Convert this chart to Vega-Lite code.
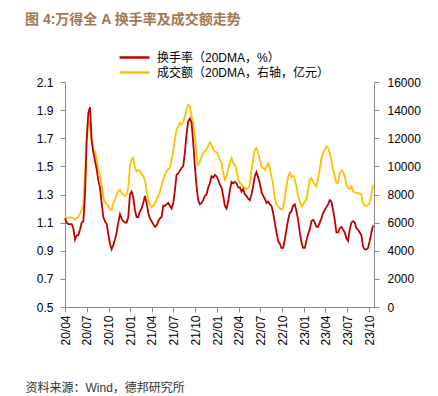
{
  "$schema": "https://vega.github.io/schema/vega-lite/v6.json",
  "autosize": {"type": "none"},
  "width": 309,
  "height": 225,
  "padding": {"left": 65, "top": 82, "right": 64, "bottom": 89},
  "background": "white",
  "config": {
    "view": {"stroke": null},
    "font": "Liberation Sans, Noto Sans CJK SC",
    "axis": {"labelFont": "Liberation Sans", "labelFontSize": 12, "labelColor": "#000", "domainColor": "#888", "tickColor": "#888", "grid": false, "tickSize": 5}
  },
  "title": {"text": "图 4:万得全 A 换手率及成交额走势", "anchor": "start", "frame": "group", "dx": -40, "offset": 24, "fontSize": 14, "fontWeight": "bold", "color": "#a07850", "font": "Liberation Sans, Noto Sans CJK SC"},
  "data": {"values": [
    {"date":"2020-04-01","t":1.13,"v":6450},{"date":"2020-04-08","t":1.10,"v":6330},{"date":"2020-04-15","t":1.09,"v":6350},{"date":"2020-04-22","t":1.09,"v":6370},{"date":"2020-04-29","t":1.09,"v":6350},{"date":"2020-05-06","t":1.06,"v":6330},{"date":"2020-05-13","t":0.98,"v":6210},{"date":"2020-05-20","t":1.01,"v":6330},{"date":"2020-05-27","t":1.01,"v":6400},{"date":"2020-06-03","t":1.05,"v":6600},{"date":"2020-06-10","t":1.10,"v":6920},{"date":"2020-06-17","t":1.11,"v":7270},{"date":"2020-06-24","t":1.29,"v":9500},{"date":"2020-07-01","t":1.68,"v":12000},{"date":"2020-07-08","t":1.88,"v":13200},{"date":"2020-07-15","t":1.92,"v":13100},{"date":"2020-07-22","t":1.69,"v":11600},{"date":"2020-07-29","t":1.60,"v":11180},{"date":"2020-08-05","t":1.54,"v":11070},{"date":"2020-08-12","t":1.48,"v":10470},{"date":"2020-08-19","t":1.40,"v":9760},{"date":"2020-08-26","t":1.35,"v":9410},{"date":"2020-09-02","t":1.24,"v":8700},{"date":"2020-09-09","t":1.14,"v":7800},{"date":"2020-09-16","t":1.11,"v":7450},{"date":"2020-09-23","t":1.09,"v":7330},{"date":"2020-09-30","t":1.02,"v":7200},{"date":"2020-10-07","t":0.95,"v":6920},{"date":"2020-10-14","t":0.91,"v":6920},{"date":"2020-10-21","t":0.94,"v":7390},{"date":"2020-10-28","t":0.98,"v":7630},{"date":"2020-11-04","t":1.03,"v":7990},{"date":"2020-11-11","t":1.10,"v":8220},{"date":"2020-11-18","t":1.16,"v":8340},{"date":"2020-11-25","t":1.13,"v":8100},{"date":"2020-12-02","t":1.11,"v":7990},{"date":"2020-12-09","t":1.10,"v":7910},{"date":"2020-12-16","t":1.10,"v":8000},{"date":"2020-12-23","t":1.14,"v":8500},{"date":"2020-12-30","t":1.30,"v":10000},
    {"date":"2021-01-06","t":1.32,"v":10500},{"date":"2021-01-13","t":1.28,"v":10600},{"date":"2021-01-20","t":1.19,"v":9900},{"date":"2021-01-27","t":1.14,"v":9650},{"date":"2021-02-03","t":1.14,"v":9750},{"date":"2021-02-10","t":1.18,"v":9700},{"date":"2021-02-17","t":1.20,"v":9450},{"date":"2021-02-24","t":1.24,"v":9350},{"date":"2021-03-03","t":1.29,"v":9000},{"date":"2021-03-10","t":1.24,"v":8300},{"date":"2021-03-17","t":1.17,"v":7600},{"date":"2021-03-24","t":1.13,"v":7270},{"date":"2021-03-31","t":1.11,"v":7110},{"date":"2021-04-07","t":1.09,"v":7160},{"date":"2021-04-14","t":1.07,"v":7390},{"date":"2021-04-21","t":1.08,"v":7630},{"date":"2021-04-28","t":1.11,"v":7900},{"date":"2021-05-05","t":1.13,"v":8150},{"date":"2021-05-12","t":1.14,"v":8700},{"date":"2021-05-19","t":1.22,"v":9050},{"date":"2021-05-26","t":1.22,"v":9400},{"date":"2021-06-02","t":1.23,"v":9650},{"date":"2021-06-09","t":1.24,"v":9800},{"date":"2021-06-16","t":1.22,"v":9880},{"date":"2021-06-23","t":1.20,"v":10470},{"date":"2021-06-30","t":1.24,"v":11070},{"date":"2021-07-07","t":1.33,"v":11900},{"date":"2021-07-14","t":1.44,"v":12610},{"date":"2021-07-21","t":1.45,"v":12840},{"date":"2021-07-28","t":1.47,"v":13080},{"date":"2021-08-04","t":1.49,"v":12960},{"date":"2021-08-11","t":1.50,"v":13200},{"date":"2021-08-18","t":1.60,"v":13550},{"date":"2021-08-25","t":1.73,"v":14080},{"date":"2021-09-01","t":1.82,"v":14380},{"date":"2021-09-08","t":1.84,"v":14260},{"date":"2021-09-15","t":1.81,"v":13550},{"date":"2021-09-22","t":1.67,"v":13080},{"date":"2021-09-29","t":1.50,"v":12130},{"date":"2021-10-06","t":1.36,"v":10710},{"date":"2021-10-13","t":1.26,"v":10120},{"date":"2021-10-20","t":1.23,"v":10360},{"date":"2021-10-27","t":1.24,"v":10710},{"date":"2021-11-03","t":1.26,"v":10950},{"date":"2021-11-10","t":1.29,"v":11070},{"date":"2021-11-17","t":1.30,"v":11180},{"date":"2021-11-24","t":1.35,"v":11470},{"date":"2021-12-01","t":1.38,"v":11710},{"date":"2021-12-08","t":1.43,"v":11540},{"date":"2021-12-15","t":1.42,"v":11180},{"date":"2021-12-22","t":1.44,"v":11070},{"date":"2021-12-29","t":1.43,"v":11000},
    {"date":"2022-01-05","t":1.405,"v":10830},{"date":"2022-01-12","t":1.37,"v":10480},{"date":"2022-01-19","t":1.35,"v":10240},{"date":"2022-01-26","t":1.29,"v":9530},{"date":"2022-02-02","t":1.22,"v":9050},{"date":"2022-02-09","t":1.20,"v":9290},{"date":"2022-02-16","t":1.25,"v":9760},{"date":"2022-02-23","t":1.33,"v":10240},{"date":"2022-03-02","t":1.39,"v":10590},{"date":"2022-03-09","t":1.38,"v":10240},{"date":"2022-03-16","t":1.39,"v":10120},{"date":"2022-03-23","t":1.38,"v":9760},{"date":"2022-03-30","t":1.35,"v":9050},{"date":"2022-04-06","t":1.35,"v":8820},{"date":"2022-04-13","t":1.32,"v":8700},{"date":"2022-04-20","t":1.34,"v":8580},{"date":"2022-04-27","t":1.30,"v":8460},{"date":"2022-05-04","t":1.29,"v":8390},{"date":"2022-05-11","t":1.27,"v":8460},{"date":"2022-05-18","t":1.26,"v":8700},{"date":"2022-05-25","t":1.30,"v":9760},{"date":"2022-06-01","t":1.36,"v":10480},{"date":"2022-06-08","t":1.43,"v":11190},{"date":"2022-06-15","t":1.46,"v":11300},{"date":"2022-06-22","t":1.42,"v":10950},{"date":"2022-06-29","t":1.38,"v":10480},{"date":"2022-07-06","t":1.32,"v":10000},{"date":"2022-07-13","t":1.29,"v":9880},{"date":"2022-07-20","t":1.27,"v":9760},{"date":"2022-07-27","t":1.24,"v":10000},{"date":"2022-08-03","t":1.25,"v":10240},{"date":"2022-08-10","t":1.23,"v":9880},{"date":"2022-08-17","t":1.22,"v":9290},{"date":"2022-08-24","t":1.17,"v":8700},{"date":"2022-08-31","t":1.10,"v":7750},{"date":"2022-09-07","t":1.03,"v":7280},{"date":"2022-09-14","t":0.97,"v":7160},{"date":"2022-09-21","t":0.95,"v":7040},{"date":"2022-09-28","t":0.92,"v":6920},{"date":"2022-10-05","t":0.92,"v":7040},{"date":"2022-10-12","t":0.98,"v":7750},{"date":"2022-10-19","t":1.05,"v":8580},{"date":"2022-10-26","t":1.12,"v":9290},{"date":"2022-11-02","t":1.17,"v":9530},{"date":"2022-11-09","t":1.18,"v":9240},{"date":"2022-11-16","t":1.22,"v":9340},{"date":"2022-11-23","t":1.23,"v":9050},{"date":"2022-11-30","t":1.18,"v":8580},{"date":"2022-12-07","t":1.12,"v":7870},{"date":"2022-12-14","t":1.03,"v":7510},{"date":"2022-12-21","t":0.96,"v":7160},{"date":"2022-12-28","t":0.92,"v":7280},
    {"date":"2023-01-04","t":0.92,"v":7510},{"date":"2023-01-11","t":0.97,"v":7630},{"date":"2023-01-18","t":1.02,"v":8340},{"date":"2023-01-25","t":1.05,"v":9050},{"date":"2023-02-01","t":1.11,"v":9170},{"date":"2023-02-08","t":1.12,"v":8860},{"date":"2023-02-15","t":1.10,"v":8700},{"date":"2023-02-22","t":1.07,"v":8580},{"date":"2023-03-01","t":1.07,"v":9170},{"date":"2023-03-08","t":1.10,"v":9760},{"date":"2023-03-15","t":1.13,"v":10590},{"date":"2023-03-22","t":1.17,"v":10950},{"date":"2023-03-29","t":1.19,"v":11190},{"date":"2023-04-05","t":1.21,"v":11420},{"date":"2023-04-12","t":1.23,"v":11300},{"date":"2023-04-19","t":1.26,"v":10950},{"date":"2023-04-26","t":1.25,"v":10480},{"date":"2023-05-03","t":1.19,"v":9760},{"date":"2023-05-10","t":1.12,"v":9290},{"date":"2023-05-17","t":1.03,"v":8820},{"date":"2023-05-24","t":1.03,"v":8820},{"date":"2023-05-31","t":1.06,"v":9530},{"date":"2023-06-07","t":1.07,"v":9720},{"date":"2023-06-14","t":1.05,"v":9650},{"date":"2023-06-21","t":1.03,"v":9290},{"date":"2023-06-28","t":0.99,"v":8700},{"date":"2023-07-05","t":0.97,"v":8460},{"date":"2023-07-12","t":1.05,"v":8390},{"date":"2023-07-19","t":1.10,"v":8580},{"date":"2023-07-26","t":1.11,"v":8220},{"date":"2023-08-02","t":1.10,"v":8150},{"date":"2023-08-09","t":1.06,"v":8110},{"date":"2023-08-16","t":1.05,"v":8110},{"date":"2023-08-23","t":1.03,"v":8060},{"date":"2023-08-30","t":1.01,"v":7990},{"date":"2023-09-06","t":0.93,"v":7390},{"date":"2023-09-13","t":0.91,"v":7200},{"date":"2023-09-20","t":0.91,"v":7200},{"date":"2023-09-27","t":0.92,"v":7280},{"date":"2023-10-04","t":0.97,"v":7390},{"date":"2023-10-11","t":1.03,"v":7990},{"date":"2023-10-18","t":1.08,"v":8700}
  ]},
  "layer": [
    {
      "mark": {"type": "line", "strokeWidth": 1.8},
      "encoding": {
        "x": {"field": "date", "type": "temporal",
              "scale": {"domain": [{"year": 2020, "month": 4, "date": 1}, {"year": 2023, "month": 10, "date": 22}]},
              "axis": null},
        "y": {"field": "v", "type": "quantitative",
              "scale": {"domain": [0, 16000], "nice": false, "zero": false},
              "axis": {"orient": "right", "values": [0, 2000, 4000, 6000, 8000, 10000, 12000, 14000, 16000], "format": "d", "title": null, "labelPadding": 8}},
        "color": {"datum": "成交额（20DMA，右轴，亿元）", "type": "nominal"}
      }
    },
    {
      "mark": {"type": "line", "strokeWidth": 1.8},
      "encoding": {
        "x": {"field": "date", "type": "temporal",
              "scale": {"domain": [{"year": 2020, "month": 4, "date": 1}, {"year": 2023, "month": 10, "date": 22}]},
              "axis": {"values": [
                {"year": 2020, "month": 4, "date": 1}, {"year": 2020, "month": 7, "date": 1}, {"year": 2020, "month": 10, "date": 1},
                {"year": 2021, "month": 1, "date": 1}, {"year": 2021, "month": 4, "date": 1}, {"year": 2021, "month": 7, "date": 1}, {"year": 2021, "month": 10, "date": 1},
                {"year": 2022, "month": 1, "date": 1}, {"year": 2022, "month": 4, "date": 1}, {"year": 2022, "month": 7, "date": 1}, {"year": 2022, "month": 10, "date": 1},
                {"year": 2023, "month": 1, "date": 1}, {"year": 2023, "month": 4, "date": 1}, {"year": 2023, "month": 7, "date": 1}, {"year": 2023, "month": 10, "date": 1}],
                "format": "%y/%m", "labelAngle": -90, "labelPadding": 3, "title": null}},
        "y": {"field": "t", "type": "quantitative",
              "scale": {"domain": [0.5, 2.1], "nice": false, "zero": false},
              "axis": {"values": [0.5, 0.7, 0.9, 1.1, 1.3, 1.5, 1.7, 1.9, 2.1], "format": ".1f", "title": null, "labelPadding": 7}},
        "color": {"datum": "换手率（20DMA，%）", "type": "nominal",
                  "scale": {"domain": ["换手率（20DMA，%）", "成交额（20DMA，右轴，亿元）"], "range": ["#c00000", "#ffc000"]},
                  "legend": {"orient": "none", "legendX": 63, "legendY": -31, "direction": "vertical", "title": null, "padding": 0,
                             "symbolType": "M-3,0H3", "symbolSize": 100, "symbolStrokeWidth": 2.5, "symbolFillColor": "transparent",
                             "labelFontSize": 12, "labelFont": "Liberation Sans, Noto Sans CJK SC", "labelColor": "#000", "labelOffset": 16, "labelLimit": 400, "rowPadding": 2}}
      }
    },
    {
      "mark": {"type": "line", "strokeOpacity": 0},
      "encoding": {
        "x": {"field": "date", "type": "temporal",
              "scale": {"domain": [{"year": 2020, "month": 4, "date": 1}, {"year": 2023, "month": 10, "date": 22}]},
              "axis": {"orient": "bottom", "offset": 61, "domain": false, "labels": false, "ticks": false,
                       "title": "资料来源：Wind，德邦研究所", "titleX": -40, "titleY": 19, "titleAlign": "left", "titleBaseline": "middle",
                       "titleFontSize": 12, "titleFontWeight": "normal", "titleColor": "#333", "titleFont": "Liberation Sans, Noto Sans CJK SC"}},
        "y": {"field": "t", "type": "quantitative", "scale": {"domain": [0.5, 2.1], "nice": false, "zero": false}, "axis": null}
      }
    }
  ],
  "resolve": {"scale": {"x": "independent", "y": "independent"}, "axis": {"x": "independent"}}
}
